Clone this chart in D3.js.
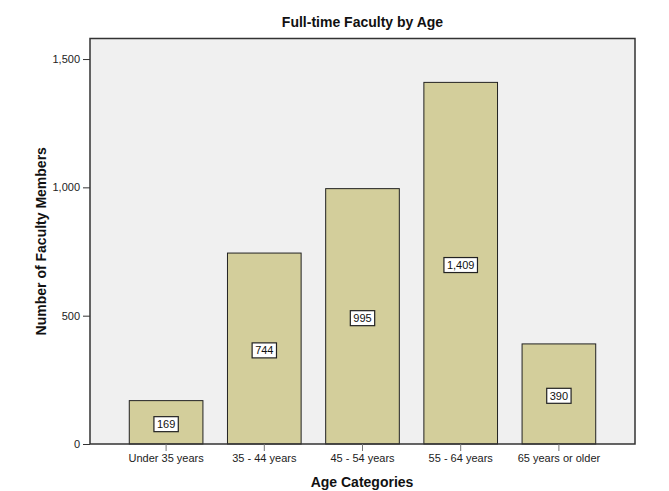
<!DOCTYPE html>
<html><head><meta charset="utf-8">
<script src="https://cdn.jsdelivr.net/npm/d3@7"></script>
<style>body{margin:0;background:#fff;} text{font-family:"Liberation Sans",Arial,sans-serif;}</style>
</head><body>
<svg id="c" width="669" height="491"></svg>
<script>
const categories = ["Under 35 years","35 - 44 years","45 - 54 years","55 - 64 years","65 years or older"];
const values = [169, 744, 995, 1409, 390];
const yTicks = [0, 500, 1000, 1500];

const svg = d3.select("#c");
const L = 90, R = 635, T = 38.5, B = 444;
const x = d3.scaleBand().domain(categories).range([L, R]).paddingInner(0.25).paddingOuter(0.4);
const y = d3.scaleLinear().domain([0, 1580]).range([B, T]);
const fmt = d3.format(",");

svg.append("rect").attr("x", L).attr("y", T).attr("width", R - L).attr("height", B - T)
  .attr("fill", "#f0f0f0");

svg.selectAll("rect.bar").data(values).enter().append("rect").attr("class","bar")
  .attr("x", (d,i) => x(categories[i])).attr("width", x.bandwidth())
  .attr("y", d => y(d)).attr("height", d => B - y(d))
  .attr("fill", "#d3ce9b").attr("stroke", "#222").attr("stroke-width", 1);

// border
svg.append("rect").attr("x", L).attr("y", T).attr("width", R - L).attr("height", B - T)
  .attr("fill", "none").attr("stroke", "#333").attr("stroke-width", 1.5);

// y axis
const ya = svg.append("g").attr("transform", `translate(${L},0)`)
  .call(d3.axisLeft(y).tickValues(yTicks).tickFormat(fmt).tickSize(7).tickPadding(3));
ya.select(".domain").remove();
ya.selectAll("line").attr("stroke", "#333");
ya.selectAll("text").attr("font-size", 11).attr("fill", "#222").attr("font-family", "Liberation Sans, Arial, sans-serif");

// x axis
const xa = svg.append("g").attr("transform", `translate(0,${B})`)
  .call(d3.axisBottom(x).tickSize(7).tickPadding(3));
xa.select(".domain").remove();
xa.selectAll("line").attr("stroke", "#777");
xa.selectAll("text").attr("font-size", 11).attr("fill", "#222").attr("font-family", "Liberation Sans, Arial, sans-serif");

// value labels
const lg = svg.selectAll("g.lab").data(values).enter().append("g").attr("class","lab")
  .attr("transform", (d,i) => `translate(${x(categories[i]) + x.bandwidth()/2},${(y(d)+B)/2 + 2})`);
lg.append("text").attr("text-anchor","middle").attr("dy","0.35em").attr("font-size", 11).attr("fill","#111")
  .text(d => fmt(d));
lg.each(function(){
  const g = d3.select(this);
  const bb = g.select("text").node().getBBox();
  g.insert("rect","text").attr("x", bb.x - 3).attr("y", bb.y - 1.5).attr("width", bb.width + 6).attr("height", bb.height + 3)
    .attr("fill","#fff").attr("stroke","#222").attr("stroke-width",1.2);
});

// titles
svg.append("text").attr("x", (L+R)/2 + 0).attr("y", 27).attr("text-anchor","middle")
  .attr("font-size", 14).attr("font-weight","bold").attr("fill","#111").text("Full-time Faculty by Age");
svg.append("text").attr("x", 362).attr("y", 487).attr("text-anchor","middle")
  .attr("font-size", 14).attr("font-weight","bold").attr("fill","#111").text("Age Categories");
svg.append("text").attr("transform", `translate(46,${(T+B)/2}) rotate(-90)`).attr("text-anchor","middle")
  .attr("font-size", 14).attr("font-weight","bold").attr("fill","#111").text("Number of Faculty Members");
</script>
</body></html>
